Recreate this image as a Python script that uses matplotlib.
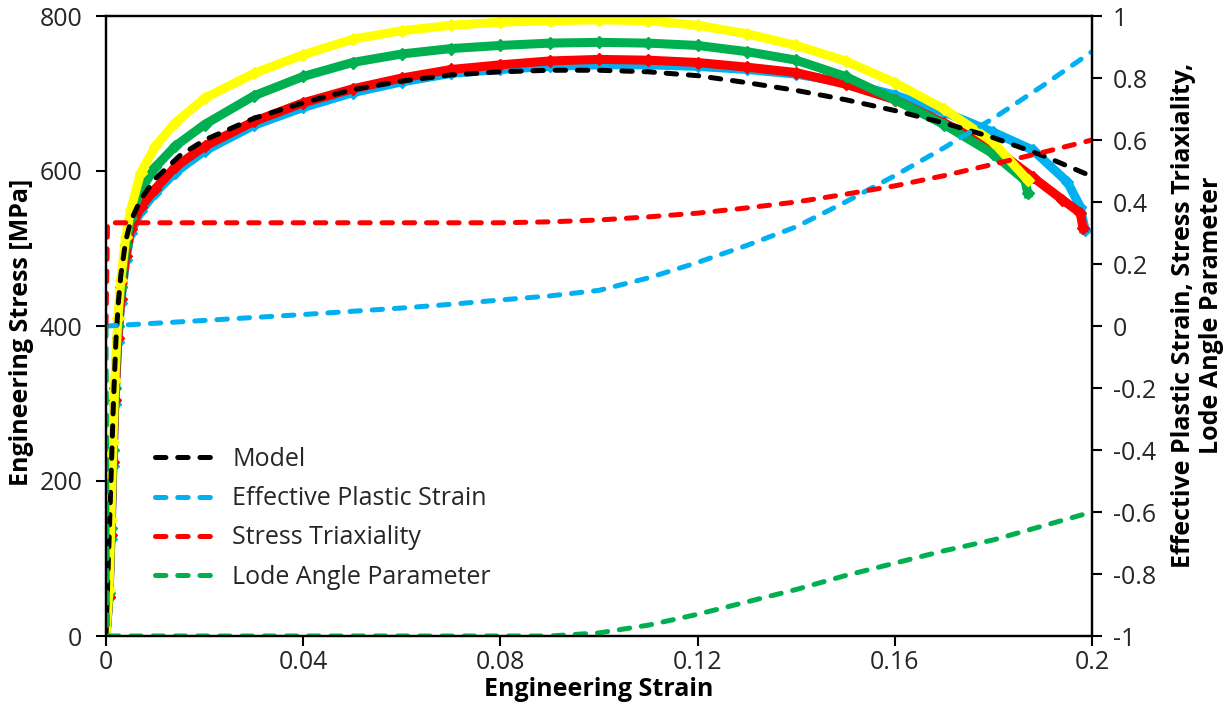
import matplotlib
matplotlib.use("Agg")
import matplotlib.pyplot as plt
import numpy as np

plt.rcParams['font.family'] = ['Open Sans', 'DejaVu Sans']
plt.rcParams['lines.scale_dashes'] = False

# experimental curves (engineering strain, engineering stress MPa)
yel_x = [0, 0.0006, 0.001, 0.0014, 0.0018, 0.0024, 0.003, 0.004, 0.005, 0.007, 0.01, 0.014, 0.02, 0.03,
         0.04, 0.05, 0.06, 0.07, 0.08, 0.09, 0.10, 0.11, 0.12, 0.13, 0.14, 0.15, 0.16, 0.17, 0.18, 0.187]
yel_y = [0, 60, 150, 250, 330, 410, 460, 515, 550, 597, 632, 662, 694, 726,
         750, 770, 781, 788, 792, 794, 795, 794, 788, 777, 762, 742, 714, 680, 637, 588]

grn_x = [0, 0.0006, 0.001, 0.0014, 0.0018, 0.0024, 0.003, 0.004, 0.005, 0.007, 0.01, 0.014, 0.02, 0.03,
         0.04, 0.05, 0.06, 0.07, 0.08, 0.09, 0.10, 0.11, 0.12, 0.13, 0.14, 0.15, 0.16, 0.17, 0.18, 0.1864, 0.187]
grn_y = [0, 55, 140, 240, 320, 400, 450, 505, 540, 575, 605, 632, 660, 697,
         722, 740, 751, 758, 762, 765, 766, 765, 762, 754, 743, 722, 692, 660, 622, 588, 571]

red_x = [0, 0.0006, 0.001, 0.0014, 0.0018, 0.0024, 0.003, 0.004, 0.005, 0.007, 0.01, 0.014, 0.02, 0.03,
         0.04, 0.05, 0.06, 0.07, 0.08, 0.09, 0.10, 0.11, 0.12, 0.13, 0.14, 0.15, 0.16, 0.17, 0.18, 0.188,
         0.194, 0.1976, 0.1982]
red_y = [0, 50, 130, 225, 305, 385, 435, 490, 525, 553, 577, 605, 632, 664,
         688, 706, 720, 731, 737, 742, 744, 743, 740, 734, 727, 712, 692, 662, 630, 592,
         563, 546, 526]

cyn_x = [0, 0.0006, 0.001, 0.0014, 0.0018, 0.0024, 0.003, 0.004, 0.005, 0.007, 0.01, 0.014, 0.02, 0.03,
         0.04, 0.05, 0.06, 0.07, 0.08, 0.09, 0.10, 0.11, 0.12, 0.13, 0.14, 0.15, 0.16, 0.17, 0.18, 0.188,
         0.195, 0.1976, 0.1986]
cyn_y = [0, 50, 125, 220, 300, 380, 430, 485, 520, 548, 572, 598, 626, 659,
         682, 701, 715, 726, 731, 735, 737, 737, 735, 731, 725, 714, 698, 676, 650, 627,
         586, 554, 524]

# model
mod_x = [0, 0.0005, 0.001, 0.0015, 0.002, 0.0025, 0.003, 0.004, 0.005, 0.007, 0.01, 0.015, 0.02, 0.03,
         0.04, 0.05, 0.06, 0.07, 0.08, 0.09, 0.10, 0.11, 0.12, 0.13, 0.14, 0.15, 0.16, 0.17, 0.18, 0.19, 0.2]
mod_y = [0, 100, 200, 300, 380, 430, 465, 510, 535, 563, 590, 620, 640, 668,
         688, 705, 716, 724, 728, 730, 730, 728, 723, 714, 704, 692, 678, 662, 643, 620, 593]

# state variables (right axis)
sv_x = [0, 0.0003, 0.02, 0.04, 0.06, 0.07, 0.08, 0.09, 0.10, 0.11, 0.12, 0.13, 0.14, 0.15,
        0.16, 0.17, 0.18, 0.19, 0.2]
eps = [0, 0, 0.018, 0.037, 0.058, 0.07, 0.084, 0.097, 0.115, 0.155, 0.205, 0.26, 0.32, 0.40,
       0.485, 0.575, 0.67, 0.775, 0.885]
triax = [0, 0.333, 0.333, 0.333, 0.333, 0.333, 0.333, 0.336, 0.342, 0.352, 0.364, 0.381, 0.40, 0.425,
         0.452, 0.485, 0.522, 0.56, 0.6]
lode = [0, -1, -1, -1, -1, -1, -1, -1, -0.99, -0.965, -0.93, -0.89, -0.85, -0.805,
        -0.765, -0.725, -0.69, -0.645, -0.6]

xticks = [0, 0.04, 0.08, 0.12, 0.16, 0.2]
xtick_labels = ['0', '0.04', '0.08', '0.12', '0.16', '0.2']
yticks = [0, 200, 400, 600, 800]
y2ticks = [1, 0.8, 0.6, 0.4, 0.2, 0, -0.2, -0.4, -0.6, -0.8, -1]
y2tick_labels = ['1', '0.8', '0.6', '0.4', '0.2', '0', '-0.2', '-0.4', '-0.6', '-0.8', '-1']

c_yel = '#FFFF00'
c_grn = '#00B050'
c_red = '#FF0000'
c_cyn = '#00B0F0'

fig = plt.figure(figsize=(12.31, 7.09), dpi=100)
ax = fig.add_axes([106 / 1231, 73 / 709, 986 / 1231, 620 / 709])
ax2 = ax.twinx()

fs = 18
dash = (7.5, 8.5)
lw = 3.6

for xs, ys, c in [(cyn_x, cyn_y, c_cyn), (red_x, red_y, c_red), (grn_x, grn_y, c_grn), (yel_x, yel_y, c_yel)]:
    ax.plot(xs, ys, color=c, lw=6.5, marker='D', ms=6, mec=c, mfc=c, zorder=2)

ax.plot(mod_x, mod_y, color='black', lw=lw, dashes=dash, dash_capstyle='round', zorder=3)
ax2.plot(sv_x, eps, color=c_cyn, lw=lw, dashes=dash, dash_capstyle='round')
ax2.plot(sv_x, triax, color=c_red, lw=lw, dashes=dash, dash_capstyle='round')
ax2.plot(sv_x, lode, color=c_grn, lw=lw, dashes=dash, dash_capstyle='round')

ax.set_xlim(0, 0.2)
ax.set_ylim(0, 800)
ax2.set_ylim(-1, 1)
ax.set_xticks(xticks)
ax.set_xticklabels(xtick_labels)
ax.set_yticks(yticks)
ax2.set_yticks(y2ticks)
ax2.set_yticklabels(y2tick_labels)

for a in (ax, ax2):
    for s in a.spines.values():
        s.set_linewidth(1.6)
        s.set_color('black')
ax.tick_params(axis='x', direction='out', length=7, width=1.5, labelsize=fs, pad=3, colors='#262626')
ax.tick_params(axis='y', direction='out', length=7, width=1.5, labelsize=fs, pad=10, colors='#262626')
ax2.tick_params(axis='y', direction='out', length=7, width=1.5, labelsize=fs, pad=8, colors='#262626')
for a in (ax, ax2):
    a.tick_params(color='black')

fig.text(599 / 1231, 1 - 690 / 709, 'Engineering Strain', ha='center', va='center',
         fontsize=fs, fontweight='bold')
fig.text(22 / 1231, 1 - 332 / 709, 'Engineering Stress [MPa]', ha='center', va='center',
         rotation=90, fontsize=fs, fontweight='bold')
fig.text(1183 / 1231, 1 - 315 / 709, 'Effective Plastic Strain, Stress Triaxiality,',
         ha='center', va='center', rotation=90, fontsize=fs, fontweight='bold')
fig.text(1212 / 1231, 1 - 315 / 709, 'Lode Angle Parameter',
         ha='center', va='center', rotation=90, fontsize=fs, fontweight='bold')

handles = [plt.Line2D([], [], color=c, lw=lw, dashes=dash, dash_capstyle='round')
           for c in ['black', c_cyn, c_red, c_grn]]
labels = ['Model', 'Effective Plastic Strain', 'Stress Triaxiality', 'Lode Angle Parameter']
fig.legend(handles, labels, loc='upper left', bbox_to_anchor=(155 / 1231, 1 - 447 / 709),
           frameon=False, fontsize=fs, handlelength=2.4, handletextpad=0.7,
           labelspacing=0.57, borderpad=0, borderaxespad=0, labelcolor='#262626')

fig.savefig('out.png', dpi=100)
